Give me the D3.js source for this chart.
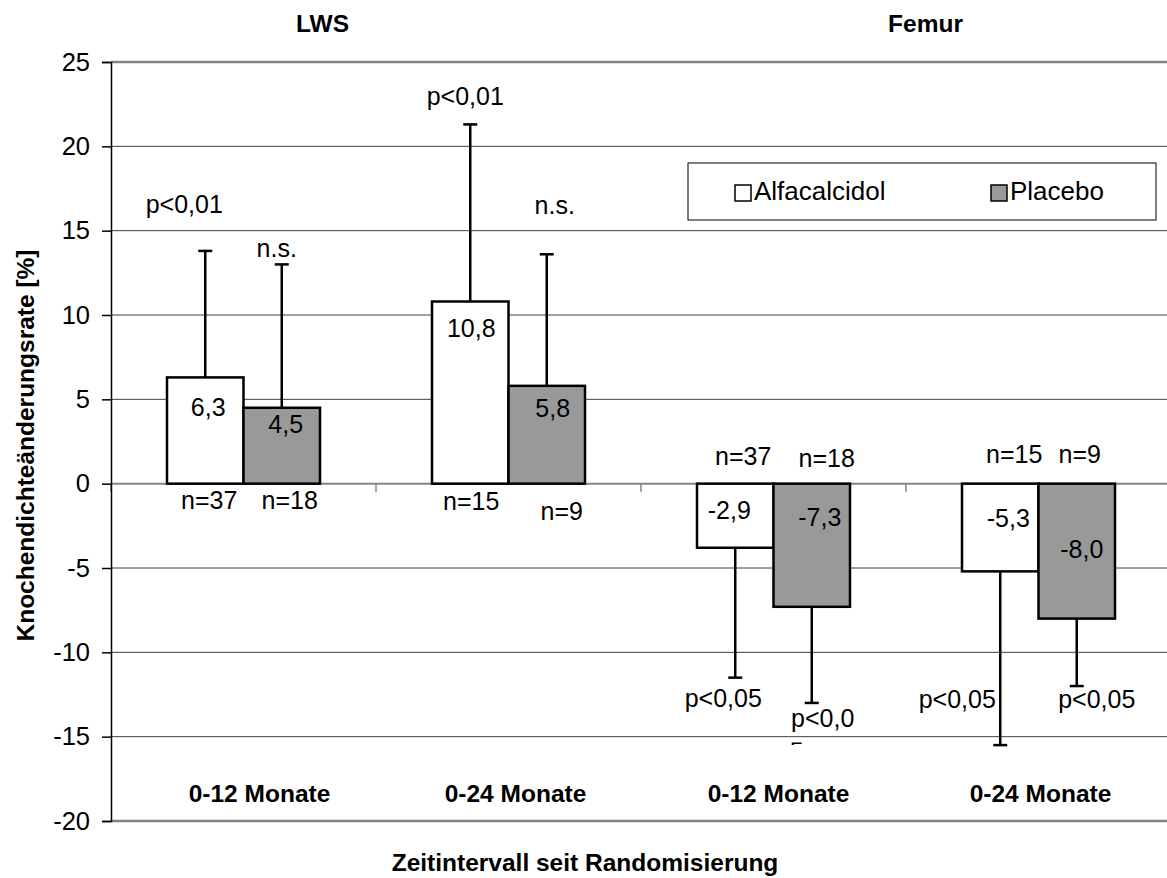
<!DOCTYPE html>
<html>
<head>
<meta charset="utf-8">
<script src="https://cdn.jsdelivr.net/npm/d3@7"></script>
<style>
  body { margin: 0; background: #fff; }
  text { font-family: "Liberation Sans", Arial, sans-serif; fill: #000; }
</style>
</head>
<body>
<div id="graphic"></div>
<script>
// categories and groups
var categories = ["0-12 Monate", "0-24 Monate", "0-12 Monate ", "0-24 Monate "];
var groups = ["LWS", "Femur"];
var series = ["Alfacalcidol", "Placebo"];

// bar heights (mean change in %)
var alfaMean = [6.3, 10.8, -3.8, -5.2];
var placeboMean = [4.5, 5.8, -7.3, -8.0];
// one sided error bars (SD), pointing away from zero
var alfaSD = [7.5, 10.5, 7.7, 10.3];
var placeboSD = [8.5, 7.8, 5.7, 4.0];

// printed texts
var alfaValueText = ["6,3", "10,8", "-2,9", "-5,3"];
var placeboValueText = ["4,5", "5,8", "-7,3", "-8,0"];
var alfaN = ["n=37", "n=15", "n=37", "n=15"];
var placeboN = ["n=18", "n=9", "n=18", "n=9"];
var alfaP = ["p<0,01", "p<0,01", "p<0,05", "p<0,05"];
var placeboP = ["n.s.", "n.s.", "p<0,0", "p<0,05"];

var yTicks = [-20, -15, -10, -5, 0, 5, 10, 15, 20, 25];

// hand placed label nudges [dx, dy] (pixels), like the text boxes in the original
var valueNudge = [[[3, 39], [4, 25]], [[1, 35], [6, 31]], [[-6, 35], [8, 42]], [[8, 43], [5, 74]]];
var nNudge = [[[4, 25], [8, 25]], [[1, 26], [15, 36]], [[8, -19], [15, -17]], [[14, -21], [3, -21]]];
var pNudge = [[[-21, -38], [-5, -7]], [[-5, -19], [8, -40]], [[-12, 29], [11, 24]], [[-43, -37], [20, 22]]];
var catLabelDx = [16, 7, 5, 2];

var w = 1167, h = 878;
var mLeft = 111, mRight = 1171, mTop = 62, mBottom = 821;

var svg = d3.select("#graphic")
    .append("svg")
    .attr("width", w)
    .attr("height", h);

var xScale = d3.scaleBand()
    .domain(categories)
    .range([mLeft, mRight]);
var barW = 76.5;
var xSeries = d3.scaleBand()
    .domain(series)
    .range([xScale.bandwidth() / 2 - barW, xScale.bandwidth() / 2 + barW]);
var yScale = d3.scaleLinear()
    .domain([-20, 25])
    .range([mBottom, mTop]);

// build rows
var rows = [];
categories.forEach(function(c, i){
    rows.push({cat: c, i: i, s: 0, name: series[0], v: alfaMean[i], sd: alfaSD[i],
               label: alfaValueText[i], n: alfaN[i], p: alfaP[i]});
    rows.push({cat: c, i: i, s: 1, name: series[1], v: placeboMean[i], sd: placeboSD[i],
               label: placeboValueText[i], n: placeboN[i], p: placeboP[i]});
});
function cx(d){ return xScale(d.cat) + xSeries(d.name) + barW / 2; }
function errEnd(d){ return d.v >= 0 ? d.v + d.sd : d.v - d.sd; }

var fills = ["#ffffff", "#999999"];

// gridlines
svg.append("g")
   .selectAll("line")
   .data(yTicks.filter(function(t){ return t != 0; }))
   .enter()
   .append("line")
   .attr("x1", mLeft)
   .attr("x2", mRight)
   .attr("y1", function(d){ return yScale(d); })
   .attr("y2", function(d){ return yScale(d); })
   .attr("stroke", function(d){ return (d == 25 || d == -20) ? "#858585" : "#404040"; })
   .attr("stroke-width", function(d){ return (d == 25 || d == -20) ? 2.5 : 1; });

// x axis on zero
var xAxis = svg.append("g")
   .attr("transform", "translate(0," + yScale(0) + ")");
xAxis.append("line")
   .attr("x1", mLeft).attr("x2", mRight)
   .attr("stroke", "#858585")
   .attr("stroke-width", 2);
xAxis.selectAll(".tk")
   .data(categories)
   .enter()
   .append("line")
   .attr("x1", function(d){ return xScale(d); })
   .attr("x2", function(d){ return xScale(d); })
   .attr("y1", 0).attr("y2", 8)
   .attr("stroke", "#858585")
   .attr("stroke-width", 1.5);

// y axis
var yAxis = svg.append("g")
   .attr("transform", "translate(" + mLeft + ",0)")
   .call(d3.axisLeft(yScale).tickValues(yTicks).tickSize(9).tickPadding(12)
         .tickFormat(function(d){ return String(d); }));
yAxis.select(".domain").attr("stroke", "#000").attr("stroke-width", 1.5);
yAxis.selectAll(".tick line").attr("stroke", "#000").attr("stroke-width", 1.5);
yAxis.selectAll(".tick text")
   .style("font-size", "25.5px")
   .style("font-family", "'Liberation Sans', Arial, sans-serif")
   .attr("fill", "#000");

// bars
svg.append("g")
   .selectAll("rect")
   .data(rows)
   .enter()
   .append("rect")
   .attr("x", function(d){ return xScale(d.cat) + xSeries(d.name); })
   .attr("y", function(d){ return yScale(Math.max(d.v, 0)); })
   .attr("width", barW)
   .attr("height", function(d){ return Math.abs(yScale(d.v) - yScale(0)); })
   .attr("fill", function(d){ return fills[d.s]; })
   .attr("stroke", "#000")
   .attr("stroke-width", 2.5);

// error bars
var err = svg.append("g").attr("stroke", "#000").attr("stroke-width", 2.5);
err.selectAll(".stem")
   .data(rows)
   .enter()
   .append("line")
   .attr("x1", cx).attr("x2", cx)
   .attr("y1", function(d){ return yScale(d.v); })
   .attr("y2", function(d){ return yScale(errEnd(d)); });
err.selectAll(".cap")
   .data(rows)
   .enter()
   .append("line")
   .attr("x1", function(d){ return cx(d) - 7; })
   .attr("x2", function(d){ return cx(d) + 7; })
   .attr("y1", function(d){ return yScale(errEnd(d)); })
   .attr("y2", function(d){ return yScale(errEnd(d)); });

// annotations
var ann = svg.append("g").attr("text-anchor", "middle").style("font-size", "25px");
ann.selectAll(".val")
   .data(rows)
   .enter()
   .append("text")
   .attr("x", function(d){ return cx(d) + valueNudge[d.i][d.s][0]; })
   .attr("y", function(d){ return yScale(Math.max(d.v, 0)) + valueNudge[d.i][d.s][1]; })
   .text(function(d){ return d.label; });
ann.selectAll(".n")
   .data(rows)
   .enter()
   .append("text")
   .attr("x", function(d){ return cx(d) + nNudge[d.i][d.s][0]; })
   .attr("y", function(d){ return yScale(0) + nNudge[d.i][d.s][1]; })
   .text(function(d){ return d.n; });
ann.selectAll(".p")
   .data(rows)
   .enter()
   .append("text")
   .attr("x", function(d){ return cx(d) + pNudge[d.i][d.s][0]; })
   .attr("y", function(d){ return yScale(errEnd(d)) + pNudge[d.i][d.s][1]; })
   .text(function(d){ return d.p; });

// the wrapped "5" of the clipped text box, only its top stroke shows
var r6 = rows[5];
svg.append("clipPath").attr("id", "cut")
   .append("rect")
   .attr("x", cx(r6) - 40).attr("width", 80)
   .attr("y", yScale(errEnd(r6)) + 39.5).attr("height", 2.5);
svg.append("text")
   .attr("clip-path", "url(#cut)")
   .attr("x", cx(r6) - 22)
   .attr("y", yScale(errEnd(r6)) + 57.5)
   .style("font-size", "25px")
   .text("5");

// category labels
svg.append("g")
   .selectAll("text")
   .data(categories)
   .enter()
   .append("text")
   .attr("x", function(d, i){ return xScale(d) + xScale.bandwidth() / 2 + catLabelDx[i]; })
   .attr("y", 802)
   .attr("text-anchor", "middle")
   .style("font-size", "24.5px")
   .style("font-weight", "bold")
   .text(function(d){ return d.trim(); });

// group titles
var groupX = [xScale(categories[0]) + xScale.bandwidth() / 2 + 79,
              xScale(categories[3]) + xScale.bandwidth() / 2 - 113];
svg.append("g")
   .selectAll("text")
   .data(groups)
   .enter()
   .append("text")
   .attr("x", function(d, i){ return groupX[i]; })
   .attr("y", 32)
   .attr("text-anchor", "middle")
   .style("font-size", "24.5px")
   .style("font-weight", "bold")
   .text(function(d){ return d; });

// axis titles
svg.append("text")
   .attr("x", 585)
   .attr("y", 871)
   .attr("text-anchor", "middle")
   .style("font-size", "24.5px")
   .style("font-weight", "bold")
   .text("Zeitintervall seit Randomisierung");
svg.append("text")
   .attr("transform", "translate(34," + ((mTop + mBottom) / 2 + 4) + ") rotate(-90)")
   .attr("text-anchor", "middle")
   .style("font-size", "24.5px")
   .style("font-weight", "bold")
   .text("Knochendichteänderungsrate [%]");

// legend
var legend = svg.append("g").attr("transform", "translate(688,163)");
legend.append("rect")
   .attr("width", 468).attr("height", 57)
   .attr("fill", "#fff")
   .attr("stroke", "#000")
   .attr("stroke-width", 1);
var legX = [47, 303];
var item = legend.selectAll(".item")
   .data(series)
   .enter()
   .append("g")
   .attr("transform", function(d, i){ return "translate(" + legX[i] + ",22)"; });
item.append("rect")
   .attr("width", 16).attr("height", 16)
   .attr("fill", function(d, i){ return fills[i]; })
   .attr("stroke", "#000")
   .attr("stroke-width", 1.5);
item.append("text")
   .attr("x", 19)
   .attr("y", 15)
   .style("font-size", "26px")
   .text(function(d){ return d; });
</script>
</body>
</html>
